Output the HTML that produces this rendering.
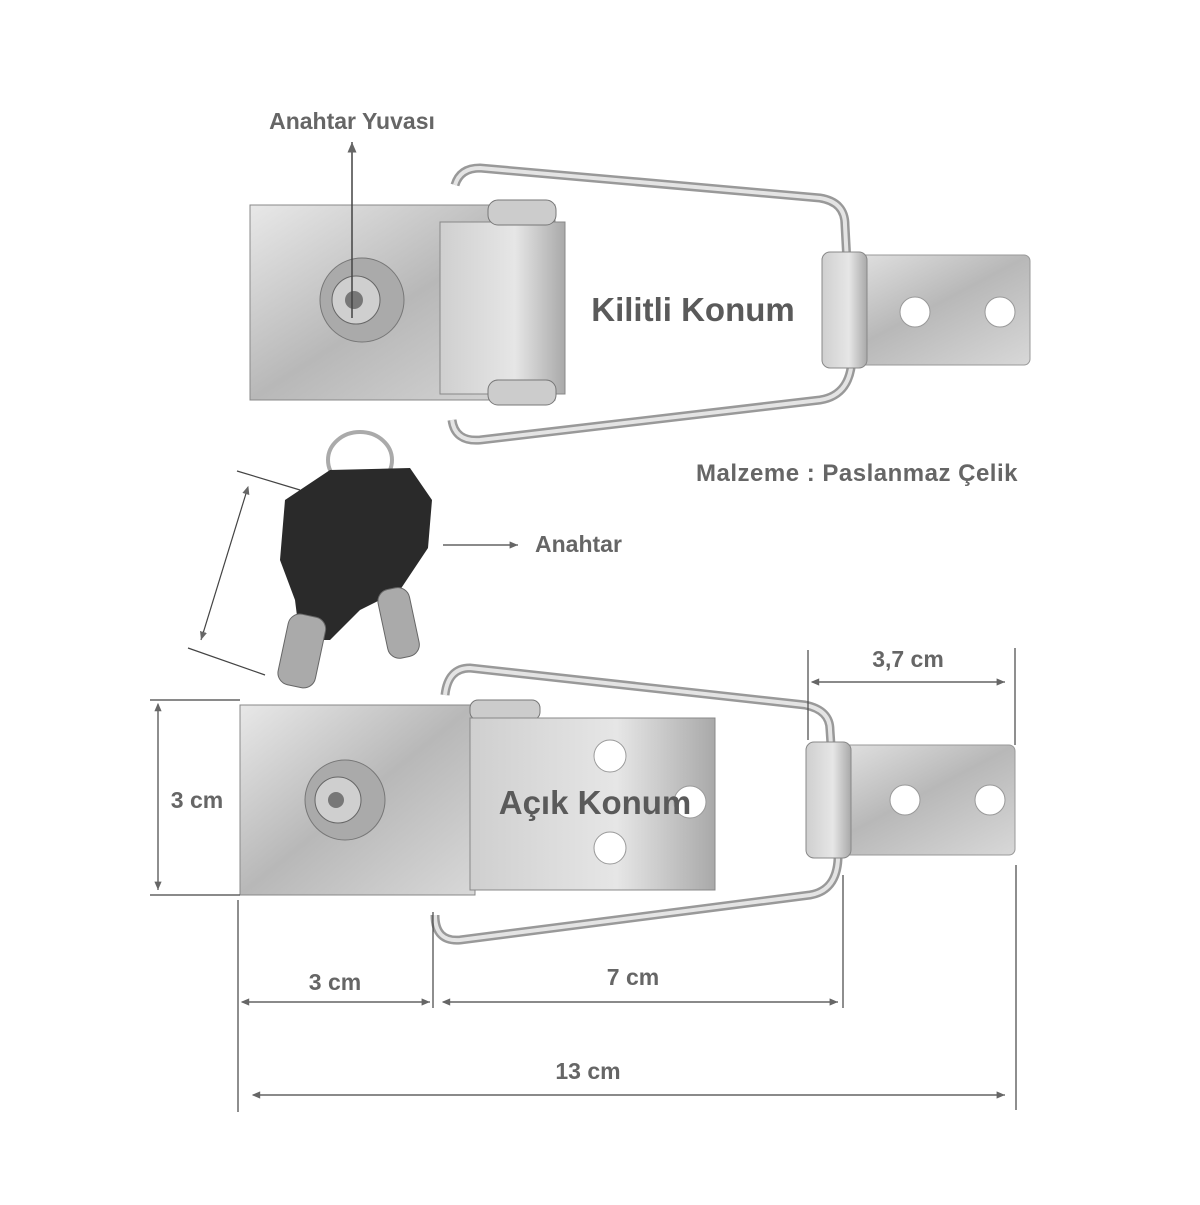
<!DOCTYPE html>
<html><head><meta charset="utf-8"><style>
html,body{margin:0;padding:0;background:#fff;}
svg text{font-family:"Liberation Sans",sans-serif;font-weight:bold;fill:#666;}
</style></head><body>
<svg width="1200" height="1200" viewBox="0 0 1200 1200" xmlns="http://www.w3.org/2000/svg">
<defs>
<linearGradient id="m" x1="0" y1="0" x2="1" y2="1">
<stop offset="0" stop-color="#e8e8e8"/><stop offset="0.5" stop-color="#b8b8b8"/><stop offset="1" stop-color="#d8d8d8"/></linearGradient>
<linearGradient id="m2" x1="0" y1="0" x2="1" y2="0">
<stop offset="0" stop-color="#cfcfcf"/><stop offset="0.6" stop-color="#e6e6e6"/><stop offset="1" stop-color="#a9a9a9"/></linearGradient>
<marker id="a" markerWidth="8" markerHeight="8" refX="7" refY="4" orient="auto"><path d="M0,1 L7,4 L0,7" fill="#666"/></marker>
<marker id="b" markerWidth="8" markerHeight="8" refX="1" refY="4" orient="auto"><path d="M7,1 L0,4 L7,7" fill="#666"/></marker>
</defs>

<!-- TOP LATCH -->
<path d="M455,185 Q460,168 480,168 L820,198 Q845,202 845,225 L852,355 Q852,395 820,400 L480,440 Q455,442 452,420" fill="none" stroke="#999" stroke-width="9"/>
<path d="M455,185 Q460,168 480,168 L820,198 Q845,202 845,225 L852,355 Q852,395 820,400 L480,440 Q455,442 452,420" fill="none" stroke="#e4e4e4" stroke-width="4"/>
<rect x="822" y="255" width="208" height="110" rx="6" fill="url(#m)" stroke="#999"/>
<rect x="822" y="252" width="45" height="116" rx="8" fill="url(#m2)" stroke="#888"/>
<circle cx="915" cy="312" r="15" fill="#fff" stroke="#999"/>
<circle cx="1000" cy="312" r="15" fill="#fff" stroke="#999"/>
<rect x="250" y="205" width="305" height="195" fill="url(#m)" stroke="#888"/>
<rect x="440" y="222" width="125" height="172" fill="url(#m2)" stroke="#888"/>
<rect x="488" y="200" width="68" height="25" rx="10" fill="#ccc" stroke="#777"/>
<rect x="488" y="380" width="68" height="25" rx="10" fill="#ccc" stroke="#777"/>
<circle cx="362" cy="300" r="42" fill="#aaa" stroke="#777"/>
<circle cx="356" cy="300" r="24" fill="#cfcfcf" stroke="#666"/>
<circle cx="354" cy="300" r="9" fill="#777"/>
<text x="352" y="129" font-size="23" text-anchor="middle">Anahtar Yuvası</text>
<line x1="352" y1="318" x2="352" y2="142" stroke="#444" stroke-width="1.5" marker-end="url(#a)"/>
<text x="693" y="321" font-size="33" text-anchor="middle" style="fill:#5a5a5a">Kilitli Konum</text>
<text x="857" y="481" font-size="24" text-anchor="middle" letter-spacing="0.5">Malzeme : Paslanmaz Çelik</text>

<!-- KEY -->
<ellipse cx="360" cy="460" rx="32" ry="28" fill="none" stroke="#aaa" stroke-width="4"/>
<path d="M330,470 L410,468 L432,500 L428,548 L400,590 L360,610 L330,640 L300,640 L295,600 L280,560 L285,500 Z" fill="#2a2a2a"/>
<rect x="283" y="615" width="38" height="72" rx="12" fill="#aaa" stroke="#666" transform="rotate(12 302 650)"/>
<rect x="382" y="588" width="32" height="70" rx="12" fill="#aaa" stroke="#666" transform="rotate(-12 398 620)"/>
<line x1="237" y1="471" x2="300" y2="490" stroke="#444" stroke-width="1.2"/>
<line x1="188" y1="648" x2="265" y2="675" stroke="#444" stroke-width="1.2"/>
<line x1="248" y1="487" x2="201" y2="640" stroke="#444" stroke-width="1.2" marker-start="url(#b)" marker-end="url(#a)"/>
<line x1="443" y1="545" x2="518" y2="545" stroke="#444" stroke-width="1.2" marker-end="url(#a)"/>
<text x="535" y="552" font-size="23">Anahtar</text>

<!-- BOTTOM LATCH -->
<path d="M445,695 Q448,668 470,668 L805,705 Q830,710 830,730 L838,850 Q840,890 810,895 L460,940 Q435,942 435,915" fill="none" stroke="#999" stroke-width="9"/>
<path d="M445,695 Q448,668 470,668 L805,705 Q830,710 830,730 L838,850 Q840,890 810,895 L460,940 Q435,942 435,915" fill="none" stroke="#e4e4e4" stroke-width="4"/>
<rect x="808" y="745" width="207" height="110" rx="6" fill="url(#m)" stroke="#999"/>
<rect x="806" y="742" width="45" height="116" rx="8" fill="url(#m2)" stroke="#888"/>
<circle cx="905" cy="800" r="15" fill="#fff" stroke="#999"/>
<circle cx="990" cy="800" r="15" fill="#fff" stroke="#999"/>
<rect x="240" y="705" width="235" height="190" fill="url(#m)" stroke="#888"/>
<rect x="470" y="700" width="70" height="20" rx="8" fill="#ccc" stroke="#777"/>
<rect x="470" y="718" width="245" height="172" fill="url(#m2)" stroke="#888"/>
<circle cx="610" cy="756" r="16" fill="#fff" stroke="#999"/>
<circle cx="690" cy="802" r="16" fill="#fff" stroke="#999"/>
<circle cx="610" cy="848" r="16" fill="#fff" stroke="#999"/>
<circle cx="345" cy="800" r="40" fill="#aaa" stroke="#777"/>
<circle cx="338" cy="800" r="23" fill="#cfcfcf" stroke="#666"/>
<circle cx="336" cy="800" r="8" fill="#777"/>
<text x="595" y="814" font-size="33" text-anchor="middle" style="fill:#5a5a5a">Açık Konum</text>

<!-- DIMENSIONS -->
<g stroke="#444" stroke-width="1.2">
<line x1="150" y1="700" x2="240" y2="700"/><line x1="150" y1="895" x2="240" y2="895"/>
<line x1="158" y1="704" x2="158" y2="890" marker-start="url(#b)" marker-end="url(#a)"/>
<line x1="808" y1="650" x2="808" y2="740"/><line x1="1015" y1="648" x2="1015" y2="745"/>
<line x1="812" y1="682" x2="1005" y2="682" marker-start="url(#b)" marker-end="url(#a)"/>
<line x1="238" y1="900" x2="238" y2="1112"/><line x1="433" y1="912" x2="433" y2="1008"/>
<line x1="843" y1="875" x2="843" y2="1008"/><line x1="1016" y1="865" x2="1016" y2="1110"/>
<line x1="242" y1="1002" x2="430" y2="1002" marker-start="url(#b)" marker-end="url(#a)"/>
<line x1="443" y1="1002" x2="838" y2="1002" marker-start="url(#b)" marker-end="url(#a)"/>
<line x1="253" y1="1095" x2="1005" y2="1095" marker-start="url(#b)" marker-end="url(#a)"/>
</g>
<text x="197" y="808" font-size="23" text-anchor="middle">3 cm</text>
<text x="908" y="667" font-size="23" text-anchor="middle">3,7 cm</text>
<text x="335" y="990" font-size="23" text-anchor="middle">3 cm</text>
<text x="633" y="985" font-size="23" text-anchor="middle">7 cm</text>
<text x="588" y="1079" font-size="23" text-anchor="middle">13 cm</text>
</svg>
</body></html>
